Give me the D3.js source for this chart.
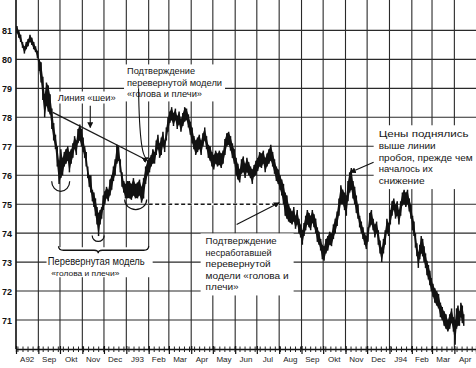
<!DOCTYPE html>
<html>
<head>
<meta charset="utf-8">
<script src="https://cdn.jsdelivr.net/npm/d3@7"></script>
<style>
  html, body { margin: 0; padding: 0; background: #fff; }
  svg { display: block; font-family: "Liberation Sans", Arial, sans-serif; }
</style>
</head>
<body>
<div id="chart"></div>
<script>
// Months shown on the time axis, with their printed labels
const months = ["1992-08","1992-09","1992-10","1992-11","1992-12","1993-01","1993-02","1993-03","1993-04","1993-05","1993-06",
  "1993-07","1993-08","1993-09","1993-10","1993-11","1993-12","1994-01","1994-02","1994-03","1994-04"];
const monthLabels = ["A92","Sep","Okt","Nov","Dec","J93","Feb","Mar","Apr","May","Jun",
  "Jul","Aug","Sep","Okt","Nov","Dec","J94","Feb","Mar","Apr"];
const axisEnd = "1994-05-01";
const lastDate = "1994-04-15"; // data stops mid April 1994
const priceTicks = [71, 72, 73, 74, 75, 76, 77, 78, 79, 80, 81];

// Bar highs / lows, one list per month (a bar every 2-3 sessions)
const high = [
  [81.15,81.0,80.85,80.6,80.45,80.6,80.7,80.85,80.75,80.6,80.45,80.3],
  [80.0,79.9,79.4,78.8,79.2,79.1,78.8,78.3,77.8,77.4,77.0,76.5],
  [76.9,76.6,76.8,76.9,77.0,76.8,76.9,77.1,77.35,77.2,77.6,77.75,77.6],
  [77.3,77.0,76.8,76.3,76.0,76.0,75.5,75.4,75.2,74.9,74.7,74.8,74.9,75.3],
  [75.45,75.6,75.5,75.85,76.0,76.3,76.55,77.05,77.0,76.55,76.1,75.8,75.7],
  [75.8,75.8,75.7,75.9,75.7,75.75,75.85,75.6,75.9,76.3,76.5],
  [76.6,76.7,76.9,76.8,77.2,77.4,77.1,77.3,77.5,77.2,77.65,78.0],
  [78.2,78.35,78.15,78.3,78.05,78.2,77.95,78.15,78.35,78.3,78.1,77.85],
  [77.65,77.35,77.2,77.3,77.4,77.2,77.45,77.65,77.35,77.05,77.0,76.8],
  [76.7,76.85,76.75,76.85,76.75,76.85,77.25,77.45,77.5,77.35,77.1,76.9],
  [76.6,76.4,76.2,76.55,76.65,76.4,76.6,76.45,76.3,76.2,76.35,76.5],
  [76.6,76.8,76.75,76.85,76.6,76.75,76.9,77.05,76.8,76.55,76.3,76.2],
  [76.0,75.85,75.7,75.4,75.3,75.0,74.85,74.75,74.9,74.6,74.8,74.5,74.3],
  [74.1,74.35,74.6,74.8,74.7,74.6,74.8,74.65,74.5,74.2,74.05,73.8,73.6],
  [73.55,73.8,73.9,74.05,74.0,74.3,74.5,74.75,75.2,75.65,75.5,75.4],
  [75.3,75.8,76.1,76.25,75.8,75.6,75.3,75.0,74.6,74.4,74.2,74.0,73.9],
  [74.2,74.7,74.8,74.5,74.3,74.4,74.1,73.75,73.5,73.8,74.1,74.5,74.35],
  [74.8,75.1,75.2,75.0,75.1,74.8,75.1,75.4,75.5,75.4,75.5,75.2,75.0],
  [74.6,74.4,74.0,73.65,73.35,73.6,73.9,73.8,73.55,73.3,73.05,72.9,72.7,72.45],
  [72.25,72.1,72.0,71.9,71.6,71.45,71.3,71.2,71.0,71.2,71.4,71.1],
  [71.0,71.4,71.5,71.3,71.6,71.5,71.2]
];
const low = [
  [80.9,80.75,80.6,80.4,80.2,80.35,80.45,80.6,80.5,80.35,80.25,80.05],
  [79.6,79.2,78.6,78.0,78.4,78.2,78.1,77.6,77.2,76.9,76.3,75.7],
  [75.9,76.0,76.3,76.4,76.5,76.1,76.4,76.6,76.9,76.7,77.1,77.2,77.0],
  [76.8,76.6,76.3,75.9,75.6,75.4,75.1,74.9,74.6,74.3,73.9,74.3,74.5,74.8],
  [75.0,75.2,75.1,75.3,75.5,75.8,76.0,76.4,76.5,76.1,75.6,75.4,75.2],
  [75.2,75.2,75.15,75.3,75.2,75.2,75.3,75.05,75.2,75.7,76.0],
  [76.1,76.3,76.4,76.4,76.7,76.9,76.6,76.7,77.0,76.8,77.2,77.5],
  [77.8,77.9,77.7,77.9,77.6,77.75,77.5,77.7,77.85,77.9,77.65,77.4],
  [77.1,76.9,76.7,76.8,76.9,76.7,77.0,77.2,76.9,76.6,76.5,76.3],
  [76.2,76.4,76.3,76.35,76.25,76.4,76.7,77.0,77.05,76.85,76.6,76.4],
  [76.0,75.85,75.75,76.05,76.1,75.9,76.1,76.0,75.9,75.7,75.95,76.0],
  [76.15,76.3,76.25,76.4,76.1,76.3,76.4,76.5,76.3,76.05,75.8,75.7],
  [75.5,75.3,75.0,74.6,74.5,74.4,74.35,74.3,74.4,74.15,74.3,74.0,73.85],
  [73.6,73.9,74.1,74.3,74.2,74.1,74.35,74.2,74.0,73.7,73.6,73.4,73.1],
  [73.05,73.3,73.4,73.6,73.55,73.8,74.0,74.25,74.6,75.0,75.0,74.8],
  [74.6,75.1,75.4,75.5,75.2,75.0,74.7,74.5,74.2,74.0,73.8,73.6,73.45],
  [73.7,74.2,74.3,74.1,73.85,74.0,73.6,73.3,73.0,73.3,73.6,74.0,73.9],
  [74.3,74.6,74.8,74.5,74.6,74.3,74.6,74.95,75.0,74.9,75.0,74.75,74.5],
  [74.1,73.9,73.5,73.2,72.8,73.1,73.3,73.2,73.0,72.8,72.55,72.4,72.2,72.0],
  [71.8,71.6,71.5,71.4,71.1,71.0,70.8,70.7,70.6,70.7,70.9,70.6],
  [70.15,70.7,70.8,70.8,71.1,70.9,70.8]
];

// Pattern landmarks: neckline, breakout level, shoulders/head lows
const neckline = [["1992-09-21", 78.17], ["1993-01-31", 76.5]];
const breakout = [["1993-02-01", 75.0], ["1993-08-03", 75.0]];
const troughs = [["1992-10-02", 75.79], ["1992-11-23", 73.92], ["1993-01-14", 75.16]];

const width = 476, height = 368;
const parseDay = d3.timeParse("%Y-%m-%d");
const parseMonth = d3.timeParse("%Y-%m");

const x = d3.scaleTime()
  .domain([parseMonth(months[0]), parseDay(axisEnd)])
  .range([16, width]);
const y = d3.scaleLinear().domain([70, 82.05]).range([349, 0]);

// build bars
const bars = [];
months.forEach((m, i) => {
  const t0 = parseMonth(m);
  const t1 = i < months.length - 1 ? parseMonth(months[i + 1]) : parseDay(lastDate);
  const n = high[i].length;
  high[i].forEach((h, j) => {
    bars.push({ date: new Date(+t0 + (j + 0.5) * (t1 - t0) / n), high: h, low: low[i][j] });
  });
});

const svg = d3.select("#chart").append("svg")
  .attr("width", width).attr("height", height)
  .attr("viewBox", [0, 0, width, height]);

svg.append("defs").append("marker")
  .attr("id", "arrow")
  .attr("viewBox", "0 0 8 8")
  .attr("refX", 7).attr("refY", 4)
  .attr("markerWidth", 6).attr("markerHeight", 6)
  .attr("markerUnits", "userSpaceOnUse")
  .attr("orient", "auto")
  .append("path").attr("d", "M0,0L8,4L0,8z").attr("fill", "#111");

// grid
const grid = svg.append("g").attr("stroke", "#2a2a2a").attr("stroke-width", 1.1);
grid.selectAll("line.h").data(priceTicks).join("line")
  .attr("x1", x.range()[0]).attr("x2", width)
  .attr("y1", d => y(d)).attr("y2", d => y(d));
grid.selectAll("line.v").data(months.map(parseMonth)).join("line")
  .attr("x1", d => x(d)).attr("x2", d => x(d))
  .attr("y1", 0).attr("y2", y(70));

// y labels
svg.append("g")
  .selectAll("text").data(priceTicks).join("text")
  .attr("x", 2).attr("y", d => y(d) + 3.5)
  .attr("font-size", 9).attr("font-weight", "bold").attr("fill", "#111")
  .text(d => d);

// x axis: weekly and monthly ticks
const axisY = y(70);
svg.append("g")
  .attr("transform", `translate(0,${axisY})`)
  .call(d3.axisBottom(x).ticks(d3.timeMonday.every(1)).tickSize(3).tickFormat(""))
  .call(g => g.select(".domain").attr("stroke", "#111").attr("stroke-width", 1.3))
  .call(g => g.selectAll(".tick line").attr("y1", -2.5).attr("stroke", "#222"));
svg.append("g")
  .attr("transform", `translate(0,${axisY})`)
  .call(d3.axisBottom(x).ticks(d3.timeMonth.every(1)).tickSize(5).tickFormat(""))
  .call(g => g.select(".domain").remove())
  .call(g => g.selectAll(".tick line").attr("y1", -3).attr("stroke", "#111").attr("stroke-width", 1.2));

svg.append("g")
  .selectAll("text").data(months).join("text")
  .attr("x", (d, i) => {
    const t0 = parseMonth(d);
    const t1 = i < months.length - 1 ? parseMonth(months[i + 1]) : parseDay(axisEnd);
    return (x(t0) + x(t1)) / 2;
  })
  .attr("y", 362)
  .attr("text-anchor", "middle")
  .attr("font-size", 8).attr("fill", "#222")
  .text((d, i) => monthLabels[i]);

// left axis line
svg.append("line")
  .attr("x1", x.range()[0]).attr("x2", x.range()[0])
  .attr("y1", 0).attr("y2", axisY)
  .attr("stroke", "#111").attr("stroke-width", 1.3);

// breakout level (dashed)
const bk = breakout.map(([d, v]) => [x(parseDay(d)), y(v)]);
svg.append("line")
  .attr("x1", bk[0][0]).attr("y1", bk[0][1]).attr("x2", bk[1][0]).attr("y2", bk[1][1])
  .attr("stroke", "#fff").attr("stroke-width", 2);
svg.append("line")
  .attr("x1", bk[0][0]).attr("y1", bk[0][1]).attr("x2", bk[1][0]).attr("y2", bk[1][1])
  .attr("stroke", "#1a1a1a").attr("stroke-width", 1.5).attr("stroke-dasharray", "4,2.5");

// bracket under the pattern (white patch hides the grid behind it)
const brL = x(parseDay("1992-09-29")), brR = x(parseDay("1993-02-01")), brM = x(parseDay(troughs[1][0]));
const brY = y(73.41);
svg.append("rect").attr("x", brL - 12).attr("y", brY - 3).attr("width", brR - brL + 16).attr("height", 30).attr("fill", "#fff");
svg.append("path")
  .attr("d", `M${brL},${brY - 4}Q${brL},${brY} ${brL + 5},${brY}L${brM - 4},${brY}Q${brM},${brY} ${brM},${brY + 3}` +
    `Q${brM},${brY} ${brM + 4},${brY}L${brR - 5},${brY}Q${brR},${brY} ${brR},${brY - 4}`)
  .attr("fill", "none").attr("stroke", "#111").attr("stroke-width", 1.3);

// text annotations (white boxes hide grid behind them)
const notes = svg.append("g").attr("fill", "#151515");
function note(date, value, lines, opts = {}) {
  const fs = opts.size || 9, lh = opts.lh || 11.5;
  const g = notes.append("g");
  const box = g.append("rect").attr("fill", "#fff");
  const t = g.append("text").attr("font-size", fs);
  lines.forEach((s, i) => {
    const ts = t.append("tspan").attr("x", x(parseDay(date))).attr("y", y(value) + i * lh).text(s);
    if (opts.fit && opts.fit[i]) ts.attr("textLength", opts.fit[i]).attr("lengthAdjust", "spacingAndGlyphs");
  });
  const b = t.node().getBBox();
  const p = opts.pad || [3, 2];
  if (!opts.noBox) {
    box.attr("x", b.x - p[0]).attr("y", b.y - p[1])
      .attr("width", b.width + 2 * p[0]).attr("height", b.height + 2 * p[1]);
  }
  return g;
}

note("1993-01-02", 79.48, ["Подтверждение", "перевернутой модели", "«голова и плечи»"],
  { pad: [3, 2], fit: [68, 95, 75] });
note("1992-09-28", 78.58, ["Линия «шеи»"], { pad: [2, 1], fit: [58] });
note("1993-04-21", 73.61, ["Подтверждение", "несработавшей", "перевернутой", "модели «голова и", "плечи»"],
  { pad: [5, 3], fit: [71, 66, 65, 83, 33] });
note("1993-12-17", 77.31, ["Цены поднялись", "выше линии", "пробоя, прежде чем", "началось их", "снижение"],
  { pad: [5, 3], lh: 11.7, size: 9.5, fit: [90, 57, 94, 54, 46] });
note("1992-09-14", 72.89, ["Перевернутая модель"], { size: 10, noBox: true, fit: [97] });
note("1992-09-19", 72.52, ["«голова и плечи»"], { size: 7.5, noBox: true, fit: [68] });

// price range band + bars
svg.append("path")
  .datum(bars)
  .attr("fill", "#161616")
  .attr("d", d3.area().x(d => x(d.date)).y0(d => y(d.low) - 0.3).y1(d => y(d.high) + 0.3));
svg.append("g")
  .attr("stroke", "#111").attr("stroke-width", 1.5)
  .selectAll("line").data(bars).join("line")
  .attr("x1", d => x(d.date)).attr("x2", d => x(d.date))
  .attr("y1", d => y(d.high)).attr("y2", d => y(d.low));

// neckline
const nk = neckline.map(([d, v]) => [x(parseDay(d)), y(v)]);
svg.append("line")
  .attr("x1", nk[0][0]).attr("y1", nk[0][1]).attr("x2", nk[1][0]).attr("y2", nk[1][1])
  .attr("stroke", "#1a1a1a").attr("stroke-width", 1.3);

// smile arcs under shoulders and head
const arcSize = [[9, 10], [6, 6], [11, 10]];
svg.append("g").attr("fill", "none").attr("stroke", "#111").attr("stroke-width", 1.2)
  .selectAll("path").data(troughs).join("path")
  .attr("d", (d, i) => {
    const cx = x(parseDay(d[0])), cy = y(d[1]);
    const [rx, ry] = arcSize[i];
    return `M${cx - rx},${cy}A${rx},${ry} 0 0 0 ${cx + rx},${cy}`;
  });

// arrows
const arrows = svg.append("g").attr("fill", "none").attr("stroke", "#111").attr("stroke-width", 1.1);
arrows.append("line")
  .attr("x1", x(parseDay("1992-11-12"))).attr("y1", y(78.4))
  .attr("x2", x(parseDay("1992-11-12"))).attr("y2", y(77.65))
  .attr("marker-end", "url(#arrow)");
{
  const x0 = x(parseDay("1993-01-18")), y0 = y(79.0);
  const x1 = x(parseDay("1993-01-31")), y1 = y(76.6);
  arrows.append("path")
    .attr("d", `M${x0},${y0}Q${x0 + 1},${y1 + 5} ${x1},${y1}`)
    .attr("marker-end", "url(#arrow)");
}
arrows.append("line")
  .attr("x1", x(parseDay("1993-06-03"))).attr("y1", y(74.3))
  .attr("x2", x(parseDay("1993-08-01"))).attr("y2", y(75.05))
  .attr("marker-end", "url(#arrow)");
arrows.append("line")
  .attr("x1", x(parseDay("1993-12-10"))).attr("y1", y(76.45))
  .attr("x2", x(parseDay("1993-11-08"))).attr("y2", y(76.1))
  .attr("marker-end", "url(#arrow)");
</script>
</body>
</html>
